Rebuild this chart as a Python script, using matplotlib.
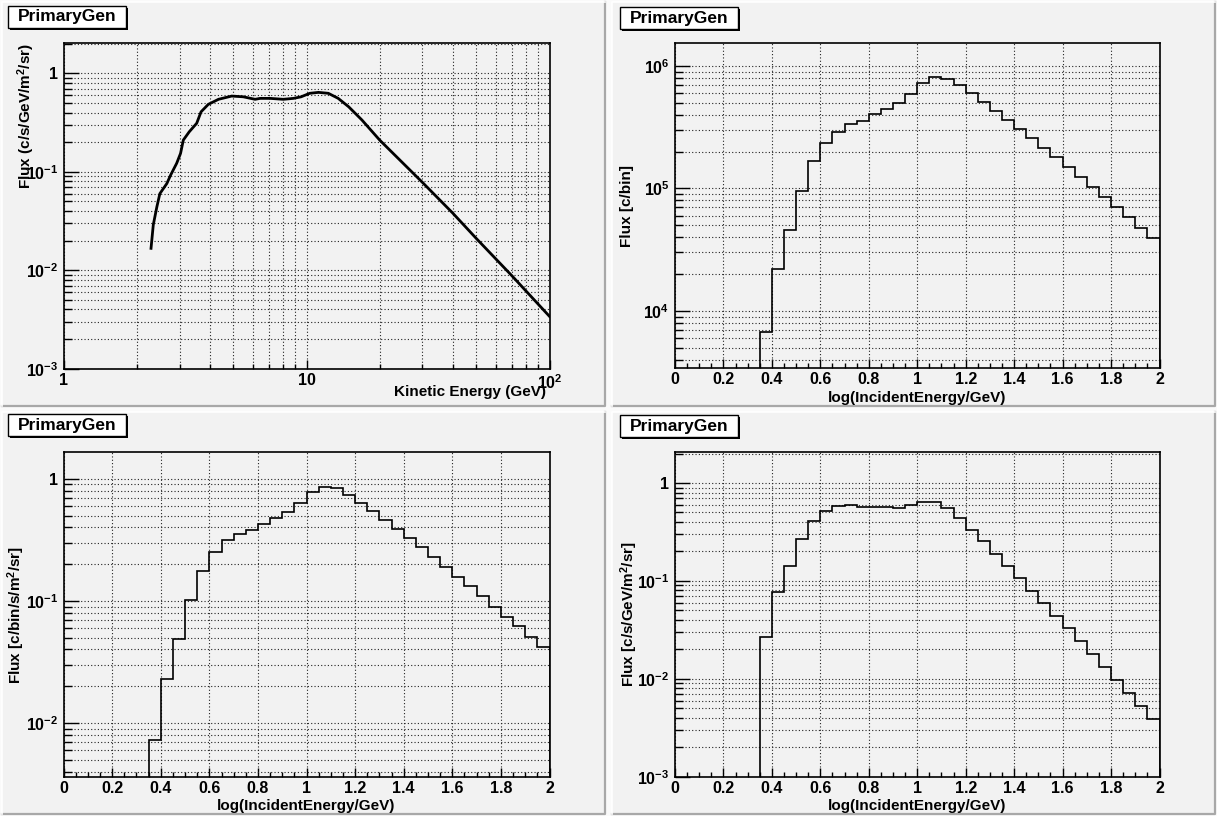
import numpy as np
import matplotlib
matplotlib.use('Agg')
import matplotlib.pyplot as plt
from matplotlib.patches import Rectangle
from matplotlib.lines import Line2D
from matplotlib.ticker import FixedLocator, NullFormatter

plt.rcParams['font.family'] = 'Liberation Sans'
plt.rcParams['font.weight'] = 'bold'
plt.rcParams['mathtext.fontset'] = 'custom'
plt.rcParams['mathtext.rm'] = 'Liberation Sans:bold'
plt.rcParams['mathtext.it'] = 'Liberation Sans:bold'
plt.rcParams['mathtext.bf'] = 'Liberation Sans:bold'

W, H = 1217, 816

# primary proton spectrum (GeV, c/s/GeV/m2/sr)
energy = [2.29, 2.34, 2.42, 2.49, 2.66, 2.76, 2.92, 3.03, 3.11, 3.29, 3.53,
          3.68, 3.94, 4.34, 4.92, 5.49, 6.14, 6.44, 7.08, 8.02, 8.83, 9.5,
          10.3, 11.2, 12.3, 13.5, 14.9, 16.9, 20.0, 30.0, 40.0, 50.0, 70.0, 100.0]
flux = [0.0167, 0.029, 0.044, 0.060, 0.076, 0.093, 0.122, 0.154, 0.210, 0.255, 0.311,
        0.407, 0.484, 0.545, 0.588, 0.578, 0.545, 0.557, 0.557, 0.545, 0.557, 0.578,
        0.627, 0.641, 0.627, 0.557, 0.458, 0.336, 0.21, 0.078, 0.038, 0.021, 0.0088, 0.0034]

# log10(E/GeV) bins, first filled bin starts at 0.35
edges = np.round(np.arange(0.35, 2.0001, 0.05), 2)

counts = [6750, 21900, 45800, 95400, 1.66e5, 2.34e5, 2.91e5, 3.34e5, 3.56e5, 4.03e5,
          4.48e5, 4.96e5, 5.87e5, 7.22e5, 8.08e5, 7.83e5, 6.95e5, 5.98e5, 5.05e5,
          4.29e5, 3.62e5, 3.04e5, 2.57e5, 2.13e5, 1.79e5, 1.49e5, 1.23e5, 1.02e5,
          8.48e4, 7.02e4, 5.82e4, 4.79e4, 3.97e4]

rate_bin = [0.00721, 0.0231, 0.0491, 0.101, 0.177, 0.252, 0.313, 0.356, 0.380, 0.430,
            0.479, 0.533, 0.632, 0.773, 0.865, 0.844, 0.744, 0.640, 0.543, 0.458,
            0.389, 0.326, 0.274, 0.228, 0.191, 0.158, 0.132, 0.109, 0.0899, 0.0744,
            0.0620, 0.0507, 0.0420]

rate_gev = [0.0265, 0.0770, 0.143, 0.268, 0.412, 0.521, 0.582, 0.601, 0.569, 0.569,
            0.564, 0.560, 0.591, 0.640, 0.640, 0.555, 0.439, 0.333, 0.253, 0.190,
            0.142, 0.106, 0.0795, 0.0594, 0.0441, 0.0328, 0.0245, 0.0179, 0.0132,
            0.00964, 0.00716, 0.00524, 0.00385]

fig = plt.figure(figsize=(W / 100, H / 100), dpi=100)
fig.patch.set_facecolor('#fafafa')

GRID = dict(color='#222222', linestyle=(0, (1, 2)), linewidth=0.8)
TICKSIZE = 11.5


def rect(x0, y0, x1, y1, **kw):
    r = Rectangle((x0 / W, 1 - y1 / H), (x1 - x0) / W, (y1 - y0) / H,
                  transform=fig.transFigure, **kw)
    fig.patches.append(r)


def pad(x0, y0, x1, y1):
    rect(x0, y0, x1, y1, facecolor='#f2f2f2', edgecolor='none', zorder=-3)
    fig.lines.append(Line2D([x0 / W, x1 / W, x1 / W], [1 - y1 / H, 1 - y1 / H, 1 - y0 / H],
                            transform=fig.transFigure, color='#a8a8a8', lw=1.6, zorder=-2))
    fig.lines.append(Line2D([x0 / W, x0 / W, x1 / W], [1 - y1 / H, 1 - y0 / H, 1 - y0 / H],
                            transform=fig.transFigure, color='white', lw=1.2, zorder=-2))


def title_box(x0, y0):
    x1, y1 = x0 + 118, y0 + 22
    rect(x0 + 2, y0 + 2, x1 + 2, y1 + 2, facecolor='black', edgecolor='none', zorder=2)
    rect(x0, y0, x1, y1, facecolor='white', edgecolor='black', lw=1.0, zorder=3)
    fig.text((x0 + x1) / 2 / W, 1 - (y0 + y1) / 2 / H, 'PrimaryGen', ha='center',
             va='center', fontsize=12.5, fontweight='bold', zorder=4)


def frame(x0, y0, x1, y1):
    ax = fig.add_axes([x0 / W, 1 - y1 / H, (x1 - x0) / W, (y1 - y0) / H])
    ax.set_facecolor('#f2f2f2')
    for s in ax.spines.values():
        s.set_linewidth(1.2)
    return ax


def dec_label(d):
    if d == 0:
        return '1'
    if d == 1:
        return '10'
    return r'$10^{%d}$' % d


def log_axis(axis, lo, hi):
    d0, d1 = int(np.floor(np.log10(lo))), int(np.ceil(np.log10(hi)))
    decs = [d for d in range(d0, d1 + 1) if lo * 0.999 <= 10.0 ** d <= hi * 1.001]
    minor = [m * 10.0 ** d for d in range(d0, d1 + 1) for m in range(2, 10)]
    minor = [v for v in minor if lo <= v <= hi]
    axis.set_major_locator(FixedLocator([10.0 ** d for d in decs]))
    axis.set_minor_locator(FixedLocator(minor))
    axis.set_minor_formatter(NullFormatter())
    axis.set_ticklabels([dec_label(d) for d in decs])


def style_ticks(ax):
    ax.tick_params(axis='y', which='major', direction='in', length=10.8, width=1.0,
                   pad=4, labelsize=TICKSIZE, left=True, right=False)
    ax.tick_params(axis='y', which='minor', direction='in', length=5.4, width=1.0,
                   left=True, right=False)
    ax.tick_params(axis='x', which='major', direction='in', length=6.8, width=1.0,
                   pad=3.0, labelsize=TICKSIZE, bottom=True, top=False)
    ax.tick_params(axis='x', which='minor', direction='in', length=3.6, width=1.0,
                   bottom=True, top=False)


def hist_panel(x0, y0, x1, y1, values, ylo, yhi):
    ax = frame(x0, y0, x1, y1)
    ax.set_yscale('log')
    ax.set_xlim(0, 2)
    ax.set_ylim(ylo, yhi)
    log_axis(ax.yaxis, ylo, yhi)
    ax.xaxis.set_major_locator(FixedLocator(np.round(np.arange(0, 2.01, 0.2), 1)))
    ax.xaxis.set_minor_locator(FixedLocator(np.round(np.arange(0, 2.01, 0.05), 2)))
    ax.set_xticklabels(['0', '0.2', '0.4', '0.6', '0.8', '1', '1.2', '1.4', '1.6', '1.8', '2'])
    ax.grid(True, which='both', axis='y', **GRID)
    ax.grid(True, which='major', axis='x', **GRID)
    ax.stairs(values, edges, baseline=ylo * 1e-3, color='black', lw=1.2, zorder=5)
    style_ticks(ax)
    return ax


# pads
pad(2, 2, 605, 406)
pad(612, 2, 1215, 406)
pad(2, 412, 605, 814)
pad(612, 412, 1215, 814)

# top left: differential flux vs kinetic energy
ax = frame(63.6, 43.3, 549.5, 368.7)
ax.set_xscale('log')
ax.set_yscale('log')
ax.set_xlim(1, 100)
ax.set_ylim(1e-3, 2.02)
log_axis(ax.xaxis, 1, 100)
log_axis(ax.yaxis, 1e-3, 2.02)
ax.grid(True, which='both', **GRID)
ax.plot(energy, flux, color='black', lw=2.0, zorder=5)
style_ticks(ax)
fig.text(26 / W, 1 - 43 / H, r'Flux (c/s/GeV/m$^{2}$/sr)', rotation=90, ha='center',
         va='top', fontsize=11, fontweight='bold')
fig.text(546 / W, 1 - 392 / H, 'Kinetic Energy (GeV)', ha='right', va='center',
         fontsize=11, fontweight='bold')

# top right: counts per bin
hist_panel(675, 43.3, 1159.5, 368.3, counts, 3400, 1.53e6)
fig.text(627 / W, 1 - 206 / H, 'Flux [c/bin]', rotation=90, ha='center', va='center',
         fontsize=11, fontweight='bold')
fig.text(917 / W, 1 - 398 / H, 'log(IncidentEnergy/GeV)', ha='center', va='center',
         fontsize=11, fontweight='bold')

# bottom left: rate per bin
hist_panel(63.6, 452.3, 549.5, 777.3, rate_bin, 0.00359, 1.65)
fig.text(16 / W, 1 - 615 / H, r'Flux [c/bin/s/m$^{2}$/sr]', rotation=90, ha='center',
         va='center', fontsize=11, fontweight='bold')
fig.text(306 / W, 1 - 806 / H, 'log(IncidentEnergy/GeV)', ha='center', va='center',
         fontsize=11, fontweight='bold')

# bottom right: rate per GeV
hist_panel(675, 452.3, 1159.5, 776.7, rate_gev, 1e-3, 2.06)
fig.text(629 / W, 1 - 614.5 / H, r'Flux [c/s/GeV/m$^{2}$/sr]', rotation=90, ha='center',
         va='center', fontsize=11, fontweight='bold')
fig.text(917 / W, 1 - 806 / H, 'log(IncidentEnergy/GeV)', ha='center', va='center',
         fontsize=11, fontweight='bold')

title_box(8, 6)
title_box(620, 7)
title_box(8, 414)
title_box(620, 415)

fig.savefig('out.png', dpi=100, facecolor=fig.get_facecolor())
